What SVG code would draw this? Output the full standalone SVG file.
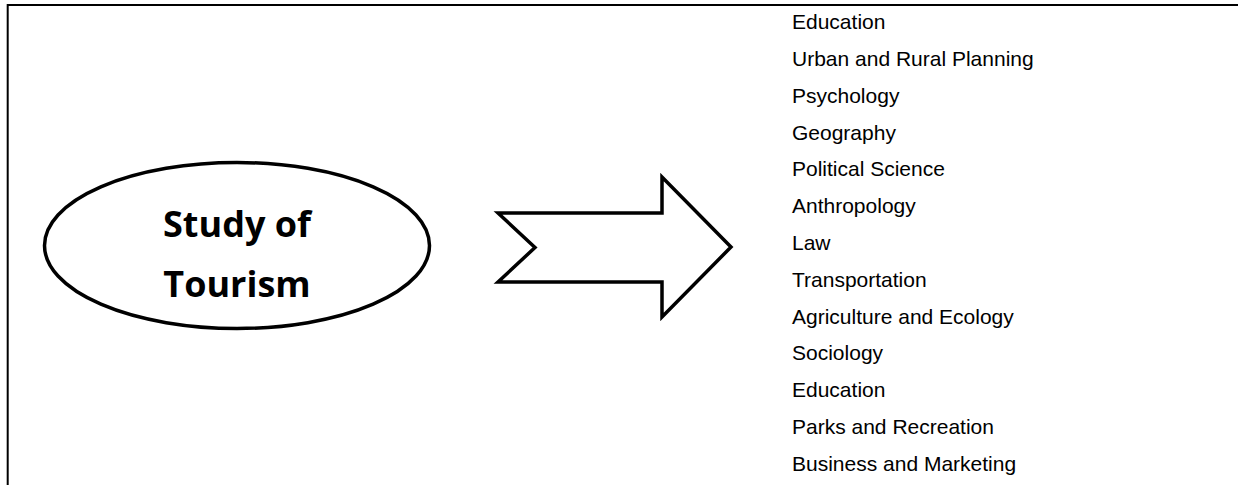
<svg xmlns="http://www.w3.org/2000/svg" width="1239" height="485" viewBox="0 0 1239 485">
  <style>
    .frame { stroke: #000; stroke-width: 2; fill: none; }
    .shape { stroke: #000; fill: #fff; }
    .title { font-family: "Open Sans", "Liberation Sans", sans-serif; font-weight: 700; font-size: 36px; fill: #000; text-anchor: middle; }
    .item { font-family: "Liberation Sans", Arial, sans-serif; font-size: 21px; fill: #000; }
  </style>
  <rect width="1239" height="485" fill="#fff"/>
  <g id="frame">
    <line class="frame" x1="7.7" y1="5" x2="1238" y2="5"/>
    <line class="frame" x1="7.7" y1="4" x2="7.7" y2="485"/>
  </g>
  <g id="study-of-tourism">
    <ellipse class="shape" cx="237" cy="245.5" rx="192.5" ry="83" stroke-width="3.5"/>
    <text class="title" x="237" y="237">Study of</text>
    <text class="title" x="237" y="297">Tourism</text>
  </g>
  <g id="connectors">
    <polygon class="shape" stroke-width="3.5" stroke-linejoin="miter" points="498,213 662,213 662,177 731,247 662,317 662,282 498,282 535,247.5"/>
  </g>
  <g id="disciplines">
    <text class="item" x="792" y="29.3">Education</text>
    <text class="item" x="792" y="66.1">Urban and Rural Planning</text>
    <text class="item" x="792" y="102.9">Psychology</text>
    <text class="item" x="792" y="139.6">Geography</text>
    <text class="item" x="792" y="176.4">Political Science</text>
    <text class="item" x="792" y="213.2">Anthropology</text>
    <text class="item" x="792" y="250">Law</text>
    <text class="item" x="792" y="286.8">Transportation</text>
    <text class="item" x="792" y="323.5">Agriculture and Ecology</text>
    <text class="item" x="792" y="360.3">Sociology</text>
    <text class="item" x="792" y="397.1">Education</text>
    <text class="item" x="792" y="433.9">Parks and Recreation</text>
    <text class="item" x="792" y="470.7">Business and Marketing</text>
  </g>
</svg>
